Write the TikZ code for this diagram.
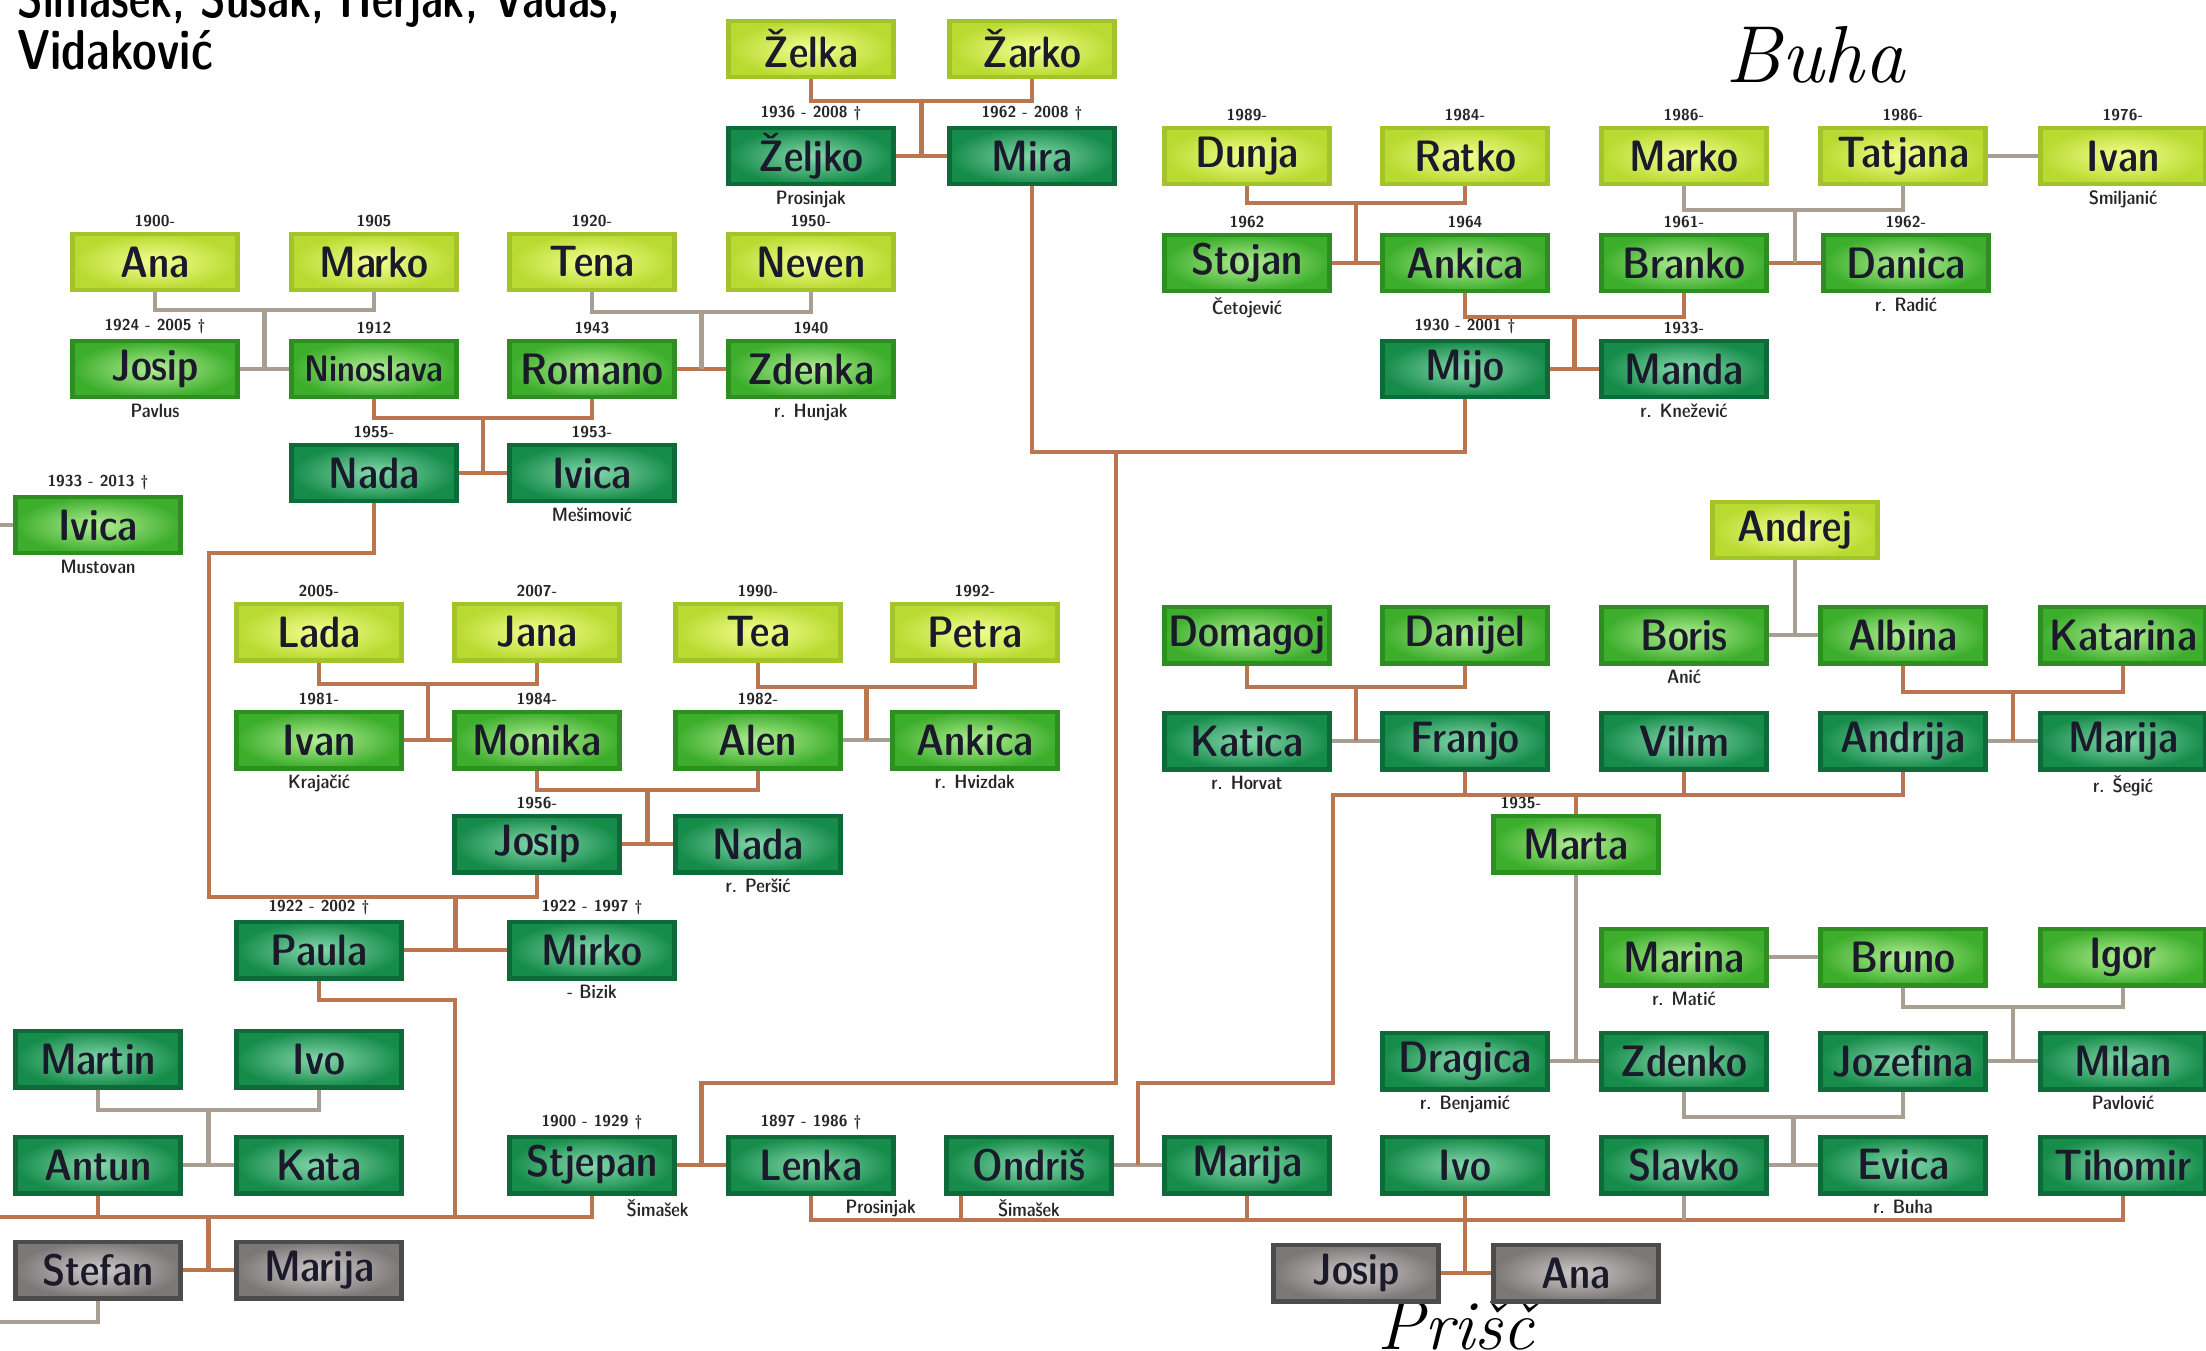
\documentclass[tikz,border=0pt]{standalone}
\usetikzlibrary{calc}
\definecolor{lgO}{HTML}{B9DA30}
\definecolor{lgI}{HTML}{F4FF92}
\definecolor{lgD}{HTML}{A3C32A}
\definecolor{mgO}{HTML}{3DAE2C}
\definecolor{mgI}{HTML}{B4EE96}
\definecolor{mgD}{HTML}{2E8E22}
\definecolor{dgO}{HTML}{168C4A}
\definecolor{dgI}{HTML}{86D8AE}
\definecolor{dgD}{HTML}{0E6A38}
\definecolor{grO}{HTML}{7C7878}
\definecolor{grI}{HTML}{CFCACA}
\definecolor{grD}{HTML}{4E4B4B}
\definecolor{lnB}{HTML}{BA7650}
\definecolor{lnG}{HTML}{A99E92}
\definecolor{txt}{HTML}{1A1A2A}
\tikzset{
  person/.style={rectangle, minimum width=1.65cm, minimum height=0.56cm, inner sep=0pt, line width=1.4pt, text=txt, font=\fontsize{12.5}{13}\usefont{TU}{lmss}{sbc}{n}},
  lbox/.style={person, draw=lgD, inner color=lgI, outer color=lgO},
  mbox/.style={person, draw=mgD, inner color=mgI, outer color=mgO},
  dbox/.style={person, draw=dgD, inner color=dgI, outer color=dgO},
  gbox/.style={person, draw=grD, inner color=grI, outer color=grO},
  narrowname/.style={font=\fontsize{10.5}{11}\usefont{TU}{lmss}{sbc}{n}},
  dl/.style={font=\fontsize{4.5}{5}\usefont{TU}{lmss}{bx}{n}, text=black!85, inner sep=1pt},
  sl/.style={font=\fontsize{5.5}{6}\usefont{TU}{lmss}{sbc}{n}, text=black!85, inner sep=1pt},
  ln/.style={draw=lnB, line width=1.4pt},
  lg/.style={draw=lnG, line width=1.4pt},
  bigtitle/.style={font=\fontsize{16}{16}\usefont{TU}{lmss}{sbc}{n}, inner sep=0pt, anchor=base west},
  place/.style={font=\fontsize{23}{23}\selectfont\itshape, inner sep=0pt}
}
\newcommand\famline[5]{%
  \draw[#5] (#1.south) |- (#2.south |- 0,#3) -- (#2.south);
  \draw[#5] (#4 |- 0,#3) -- (#4);}
\begin{document}
\begin{tikzpicture}[x=0.01cm,y=-0.01cm]
\useasboundingbox[fill=white] (0,0) rectangle (2206,1350);

% titles
\node[bigtitle] (title1) at (17,17) {\scalebox{0.86}[1]{Šimašek, Sušak, Herjak, Vadas,}};
\node[bigtitle] (title2) at (17,69) {\scalebox{0.92}[1]{Vidaković}};
\node[place] (buha) at (1815,55) {Buha};
\node[place, font=\fontsize{20}{20}\selectfont\itshape] (prisc) at (1456,1326) {Prišč};

% ---- left / centre block
\node[lbox] (zelka) at (811,49) {Želka};
\node[lbox] (zarko) at (1032,49) {Žarko};
\node[dbox, label={[dl]above:1936 - 2008 †}, label={[sl]below:Prosinjak}] (zeljko) at (811,156) {Željko};
\node[dbox, label={[dl]above:1962 - 2008 †}] (mira) at (1032,156) {Mira};

\node[lbox, label={[dl]above:1900-}] (ana) at (155,262) {Ana};
\node[lbox, label={[dl]above:1905}] (marko) at (374,262) {Marko};
\node[lbox, label={[dl]above:1920-}] (tena) at (592,262) {Tena};
\node[lbox, label={[dl]above:1950-}] (neven) at (811,262) {Neven};

\node[mbox, label={[dl]above:1924 - 2005 †}, label={[sl]below:Pavlus}] (josipA) at (155,369) {Josip};
\node[mbox, narrowname, label={[dl]above:1912}] (nino) at (374,369) {Ninoslava};
\node[mbox, label={[dl]above:1943}] (romano) at (592,369) {Romano};
\node[mbox, label={[dl]above:1940}, label={[sl]below:r. Hunjak}] (zdenka) at (811,369) {Zdenka};

\node[dbox, label={[dl]above:1955-}] (nada) at (374,473) {Nada};
\node[dbox, label={[dl]above:1953-}, label={[sl]below:Mešimović}] (ivicaA) at (592,473) {Ivica};
\node[mbox, label={[dl]above:1933 - 2013 †}, label={[sl]below:Mustovan}] (ivicaB) at (98,525) {Ivica};

\node[lbox, label={[dl]above:2005-}] (lada) at (319,632) {Lada};
\node[lbox, label={[dl]above:2007-}] (jana) at (537,632) {Jana};
\node[lbox, label={[dl]above:1990-}] (tea) at (758,632) {Tea};
\node[lbox, label={[dl]above:1992-}] (petra) at (975,632) {Petra};

\node[mbox, label={[dl]above:1981-}, label={[sl]below:Krajačić}] (ivan) at (319,740) {Ivan};
\node[mbox, label={[dl]above:1984-}] (monika) at (537,740) {Monika};
\node[mbox, label={[dl]above:1982-}] (alen) at (758,740) {Alen};
\node[mbox, label={[sl]below:r. Hvizdak}] (ankicaA) at (975,740) {Ankica};

\node[dbox, label={[dl]above:1956-}] (josipB) at (537,844) {Josip};
\node[dbox, label={[sl]below:r. Peršić}] (nadaB) at (758,844) {Nada};

\node[dbox, label={[dl]above:1922 - 2002 †}] (paula) at (319,950) {Paula};
\node[dbox, label={[dl]above:1922 - 1997 †}, label={[sl]below:- Bizik}] (mirko) at (592,950) {Mirko};

\node[dbox] (martin) at (98,1059) {Martin};
\node[dbox] (ivo) at (319,1059) {Ivo};
\node[dbox] (antun) at (98,1165) {Antun};
\node[dbox] (kata) at (319,1165) {Kata};
\node[gbox] (stefan) at (98,1270) {Stefan};
\node[gbox] (marijaG) at (319,1270) {Marija};

\node[dbox, label={[dl]above:1900 - 1929 †}, label={[sl]below right:Šimašek}] (stjepan) at (592,1165) {Stjepan};
\node[dbox, label={[dl]above:1897 - 1986 †}, label={[sl]below right:Prosinjak}] (lenka) at (811,1165) {Lenka};
\node[dbox, label={[sl]below:Šimašek}] (ondris) at (1029,1165) {Ondriš};
\node[dbox] (marijaB) at (1247,1165) {Marija};
\node[dbox] (ivoB) at (1465,1165) {Ivo};
\node[dbox] (slavko) at (1684,1165) {Slavko};
\node[dbox, label={[sl]below:r. Buha}] (evica) at (1903,1165) {Evica};
\node[dbox] (tihomir) at (2123,1165) {Tihomir};
\node[gbox] (josipG) at (1356,1273) {Josip};
\node[gbox] (anaG) at (1576,1273) {Ana};

% ---- right block
\node[lbox, label={[dl]above:1989-}] (dunja) at (1247,156) {Dunja};
\node[lbox, label={[dl]above:1984-}] (ratko) at (1465,156) {Ratko};
\node[lbox, label={[dl]above:1986-}] (markoB) at (1684,156) {Marko};
\node[lbox, label={[dl]above:1986-}] (tatjana) at (1903,156) {Tatjana};
\node[lbox, label={[dl]above:1976-}, label={[sl]below:Smiljanić}] (ivanB) at (2123,156) {Ivan};

\node[mbox, label={[dl]above:1962}, label={[sl]below:Četojević}] (stojan) at (1247,263) {Stojan};
\node[mbox, label={[dl]above:1964}] (ankicaB) at (1465,263) {Ankica};
\node[mbox, label={[dl]above:1961-}] (branko) at (1684,263) {Branko};
\node[mbox, label={[dl]above:1962-}, label={[sl]below:r. Radić}] (danica) at (1906,263) {Danica};

\node[dbox, label={[dl]above:1930 - 2001 †}] (mijo) at (1465,369) {Mijo};
\node[dbox, label={[dl]above:1933-}, label={[sl]below:r. Knežević}] (manda) at (1684,369) {Manda};

\node[lbox] (andrej) at (1795,530) {Andrej};

\node[mbox] (domagoj) at (1247,635) {Domagoj};
\node[mbox] (danijel) at (1465,635) {Danijel};
\node[mbox, label={[sl]below:Anić}] (boris) at (1684,635) {Boris};
\node[mbox] (albina) at (1903,635) {Albina};
\node[mbox] (katarina) at (2123,635) {Katarina};

\node[dbox, label={[sl]below:r. Horvat}] (katica) at (1247,741) {Katica};
\node[dbox] (franjo) at (1465,741) {Franjo};
\node[dbox] (vilim) at (1684,741) {Vilim};
\node[dbox] (andrija) at (1903,741) {Andrija};
\node[dbox, label={[sl]below:r. Šegić}] (marijaC) at (2123,741) {Marija};

\node[mbox, label={[dl]above left:1935-}] (marta) at (1576,844) {Marta};

\node[mbox, label={[sl]below:r. Matić}] (marina) at (1684,957) {Marina};
\node[mbox] (bruno) at (1903,957) {Bruno};
\node[mbox] (igor) at (2123,957) {Igor};

\node[dbox, label={[sl]below:r. Benjamić}] (dragica) at (1465,1061) {Dragica};
\node[dbox] (zdenko) at (1684,1061) {Zdenko};
\node[dbox] (jozefina) at (1903,1061) {Jozefina};
\node[dbox, label={[sl]below:Pavlović}] (milan) at (2123,1061) {Milan};

% ---- marriage lines
\foreach \a/\b/\s in {zeljko/mira/ln, josipA/nino/lg, romano/zdenka/ln, nada/ivicaA/ln,
  ivan/monika/ln, alen/ankicaA/lg, josipB/nadaB/ln, paula/mirko/ln, antun/kata/lg,
  stefan/marijaG/ln, stjepan/lenka/ln, ondris/marijaB/lg, josipG/anaG/ln,
  tatjana/ivanB/lg, stojan/ankicaB/ln, branko/danica/ln, mijo/manda/ln,
  boris/albina/lg, katica/franjo/lg, andrija/marijaC/lg, marina/bruno/lg,
  dragica/zdenko/lg, jozefina/milan/lg, slavko/evica/lg}
  {\draw[\s] (\a) -- (\b);}
\coordinate (edgeL) at (0,525);
\draw[lg] (edgeL) -- (ivicaB.west);

% ---- midpoints of couples
\foreach \a/\b/\c in {zeljko/mira/cZM, josipA/nino/cJN, romano/zdenka/cRZ, nada/ivicaA/cNI,
  ivan/monika/cIM, alen/ankicaA/cAA, josipB/nadaB/cJNb, paula/mirko/cPM, antun/kata/cAK,
  stefan/marijaG/cSM, stjepan/lenka/cSL, ondris/marijaB/cOM, josipG/anaG/cJA,
  stojan/ankicaB/cSA, branko/danica/cBD, mijo/manda/cMM, boris/albina/cBA,
  katica/franjo/cKF, andrija/marijaC/cAM, dragica/zdenko/cDZ, jozefina/milan/cJM,
  slavko/evica/cSE}
  {\coordinate (\c) at ($(\a.east)!.5!(\b.west)$);}

% ---- parent bars
\famline{zelka}{zarko}{101}{cZM}{ln}
\famline{ana}{marko}{310}{cJN}{lg}
\famline{tena}{neven}{312}{cRZ}{lg}
\famline{nino}{romano}{418}{cNI}{ln}
\famline{lada}{jana}{684}{cIM}{ln}
\famline{tea}{petra}{687}{cAA}{ln}
\famline{monika}{alen}{790}{cJNb}{ln}
\famline{martin}{ivo}{1110}{cAK}{lg}
\famline{domagoj}{danijel}{687}{cKF}{ln}
\famline{albina}{katarina}{692}{cAM}{ln}
\famline{bruno}{igor}{1007}{cJM}{lg}
\famline{zdenko}{jozefina}{1117}{cSE}{lg}
\famline{dunja}{ratko}{203}{cSA}{ln}
\famline{markoB}{tatjana}{210}{cBD}{lg}
\famline{ankicaB}{branko}{317}{cMM}{ln}

% ---- special lineage lines
\draw[ln] (nada.south) |- (209,553) -- (209,897) -| (josipB.south);
\draw[ln] (cPM |- 0,897) -- (cPM);
\draw[ln] (mira.south) |- (mijo.south |- 0,452) -- (mijo.south);
\draw[ln] (1116,452) -- (1116,1083) -| (cSL);
\draw[ln] (0,1217) -| (stjepan.south);
\draw[ln] (antun.south) -- (antun.south |- 0,1217);
\draw[ln] (paula.south) |- (455,1000) -- (455,1217);
\draw[ln] (cSM |- 0,1217) -- (cSM);
\draw[lg] (stefan.south) |- (0,1322);
\draw[ln] (lenka.south) |- (tihomir.south |- 0,1220) -- (tihomir.south);
\draw[ln] (ondris.south -| 961,0) -- (961,1220);
\draw[ln] (marijaB.south) -- (marijaB.south |- 0,1220);
\draw[ln] (ivoB.south) -- (ivoB.south |- cJA);
\draw[lg] (slavko.south) -- (slavko.south |- 0,1220);
\draw[ln] (andrija.south) |- (1333,795) -- (1333,1083) -| (cOM);
\draw[ln] (franjo.south) -- (franjo.south |- 0,795);
\draw[ln] (vilim.south) -- (vilim.south |- 0,795);
\draw[ln] (marta.north) -- (marta.north |- 0,795);
\draw[lg] (andrej.south) -- (andrej.south |- cBA);
\draw[lg] (marta.south) -- (marta.south |- cDZ);
\end{tikzpicture}
\end{document}
